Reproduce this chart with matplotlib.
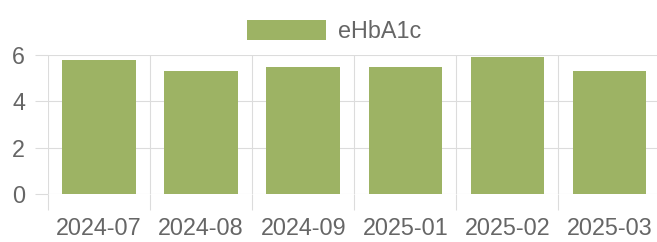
import numpy as np
import matplotlib
matplotlib.use("Agg")
import matplotlib.pyplot as plt

# Datos
meses = ["2024-07", "2024-08", "2024-09", "2025-01", "2025-02", "2025-03"]
ehba1c = [5.8, 5.3, 5.5, 5.5, 5.9, 5.3]
etiqueta_serie = "eHbA1c"
ticks_y = [0, 2, 4, 6]

plt.rcParams["font.family"] = ["Liberation Sans", "DejaVu Sans"]

COLOR_BARRA = "#9db364"
COLOR_TEXTO = "#666666"
COLOR_REJILLA = "#dcdcdc"
FS = 16.8

W, H = 657, 242
fig = plt.figure(figsize=(W / 100, H / 100), dpi=100)
ax = fig.add_axes([48 / W, 48 / H, (660.5 - 48) / W, (194 - 55) / H])

x = np.arange(len(meses))
ax.bar(x, ehba1c, width=0.72, color=COLOR_BARRA, label=etiqueta_serie, zorder=2)

ax.set_xlim(-0.5, len(meses) - 0.5)
ax.set_ylim(0, 6)

# Ticks principales: etiquetas en el centro de cada categoría
ax.set_xticks(x)
ax.set_xticklabels(meses)
ax.set_yticks(ticks_y)
ax.tick_params(axis="x", which="major", length=0, pad=16.5, labelsize=FS,
               labelcolor=COLOR_TEXTO)
ax.tick_params(axis="y", which="major", length=9.4, width=0.8,
               color=COLOR_REJILLA, pad=7, labelsize=FS, labelcolor=COLOR_TEXTO)

# Ticks menores en los bordes de categoría (rejilla vertical)
ax.set_xticks(np.arange(len(meses) + 1) - 0.5, minor=True)
ax.tick_params(axis="x", which="minor", length=11.5, width=0.8,
               color=COLOR_REJILLA)

ax.grid(True, axis="x", which="minor", color=COLOR_REJILLA, linewidth=0.8, zorder=0)
ax.grid(True, axis="y", which="major", color=COLOR_REJILLA, linewidth=0.8, zorder=0)
ax.set_axisbelow(True)

for s in ax.spines.values():
    s.set_visible(False)

fig.legend(loc="upper center", bbox_to_anchor=(334 / W, 1 - 8 / H),
           frameon=False, fontsize=FS, handlelength=3.4, handleheight=0.93,
           handletextpad=0.5, borderpad=0, labelcolor=COLOR_TEXTO)

fig.savefig("out.png", dpi=100)
plt.close()
